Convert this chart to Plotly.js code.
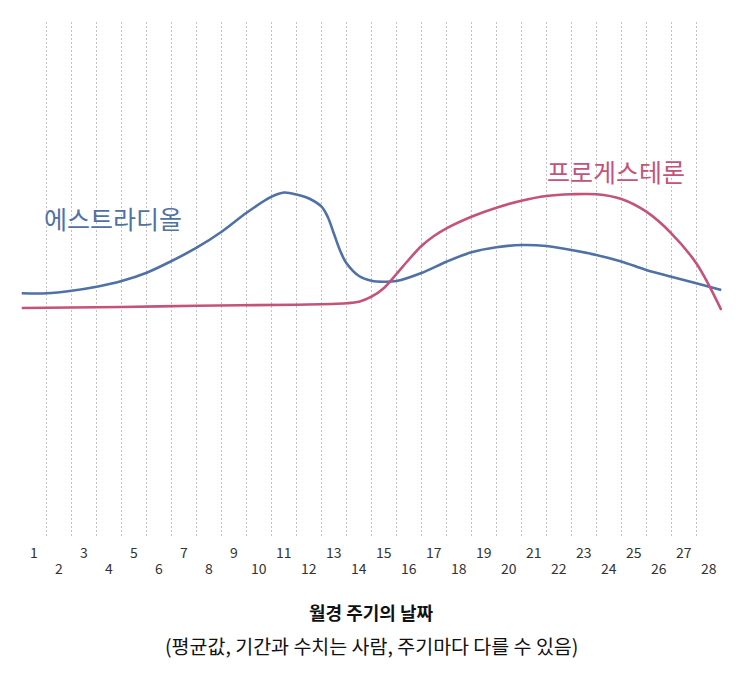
<!DOCTYPE html>
<html>
<head>
<meta charset="utf-8">
<script src="https://cdn.plot.ly/plotly-3.0.1.min.js"></script>
<style>html,body{margin:0;padding:0;background:#fff;}#chart{width:745px;height:681px;}</style>
</head>
<body>
<div id="chart"></div>
<script>
// Days of the menstrual cycle (category labels)
const days = [1,2,3,4,5,6,7,8,9,10,11,12,13,14,15,16,17,18,19,20,21,22,23,24,25,26,27,28];

// Estradiol (relative level), x measured in elapsed days from start of day 1
const estradiolX = [0,1,2,3,4,5,6,7,8,9,10,10.5,11,11.5,12,12.25,12.5,12.75,13,13.5,14,14.5,15,16,17,18,19,20,21,22,23,24,25,26,27,28];
const estradiolY = [243.7,243.7,246.3,250.3,256,264.3,276,289.3,305.3,324.3,340.3,344.5,342.5,338.5,330.3,320,303,286,273.7,261,256.3,255.3,256,264,275.3,284.7,289.7,292,291,287,282,275.5,267,260.3,253.7,247];

// Progesterone (relative level)
const progesteroneX = [0,4,7,11,13,13.5,14,14.5,15,15.5,16,16.5,17,18,19,20,21,22,23,24,25,26,27,28];
const progesteroneY = [229,230,231.3,232.3,233.7,235.3,240.3,249,263,277.5,291,301,308.7,320.3,329.3,336.3,341,342.7,342.7,338,325.3,303.7,273.7,227];

const seriesNames = ['에스트라디올','프로게스테론'];
const xTitle = '월경 주기의 날짜';
const xSubtitle = '(평균값, 기간과 수치는 사람, 주기마다 다를 수 있음)';

const BLUE = '#4f71a5';
const PINK = '#c4527b';
const FONT = '"Noto Sans CJK KR", "Noto Sans", sans-serif';

const traces = [
  {x: estradiolX, y: estradiolY, name: seriesNames[0], mode: 'lines',
   line: {color: BLUE, width: 2.6, shape: 'spline', smoothing: 0.9}, hoverinfo: 'skip'},
  {x: progesteroneX, y: progesteroneY, name: seriesNames[1], mode: 'lines',
   line: {color: PINK, width: 2.6, shape: 'spline', smoothing: 1.0}, hoverinfo: 'skip'}
];

const annotations = [];
days.forEach((d) => {
  annotations.push({
    x: d - 0.5, y: 0, xref: 'x', yref: 'paper',
    text: String(d), showarrow: false,
    xanchor: 'center', yanchor: 'middle',
    yshift: (d % 2 === 1) ? -15 : -31,
    font: {family: FONT, size: 14, color: '#333'}
  });
});
annotations.push({
  x: 3.66, y: 319, xref: 'x', yref: 'y', text: seriesNames[0], showarrow: false,
  xanchor: 'center', yanchor: 'middle', font: {family: FONT, size: 25, color: BLUE}
});
annotations.push({
  x: 23.78, y: 366, xref: 'x', yref: 'y', text: seriesNames[1], showarrow: false,
  xanchor: 'center', yanchor: 'middle', font: {family: FONT, size: 25, color: PINK}
});
annotations.push({
  x: 0.5, y: 0, xref: 'paper', yref: 'paper', text: '<b>' + xTitle + '</b>', showarrow: false,
  xanchor: 'center', yanchor: 'middle', yshift: -75,
  font: {family: FONT, size: 18, color: '#111'}
});
annotations.push({
  x: 0.5, y: 0, xref: 'paper', yref: 'paper', text: xSubtitle, showarrow: false,
  xanchor: 'center', yanchor: 'middle', yshift: -108,
  font: {family: FONT, size: 19.5, color: '#111'}
});

const layout = {
  width: 745, height: 681,
  margin: {l: 20.75, r: 22.75, t: 22, b: 144, pad: 0},
  paper_bgcolor: '#fff', plot_bgcolor: '#fff',
  showlegend: false,
  font: {family: FONT},
  xaxis: {
    range: [-0.03, 28.03], showticklabels: false, ticks: '', zeroline: false, showline: false,
    showgrid: false, fixedrange: true,
    minor: {tickmode: 'array', tickvals: [0].concat(days), showgrid: true,
            gridcolor: '#c2c2c2', griddash: '2px,2px', gridwidth: 1, ticks: ''}
  },
  yaxis: {
    range: [0, 515], visible: false, showgrid: false, zeroline: false, fixedrange: true
  },
  annotations: annotations
};

Plotly.newPlot('chart', traces, layout, {staticPlot: true, displayModeBar: false});
</script>
</body>
</html>
